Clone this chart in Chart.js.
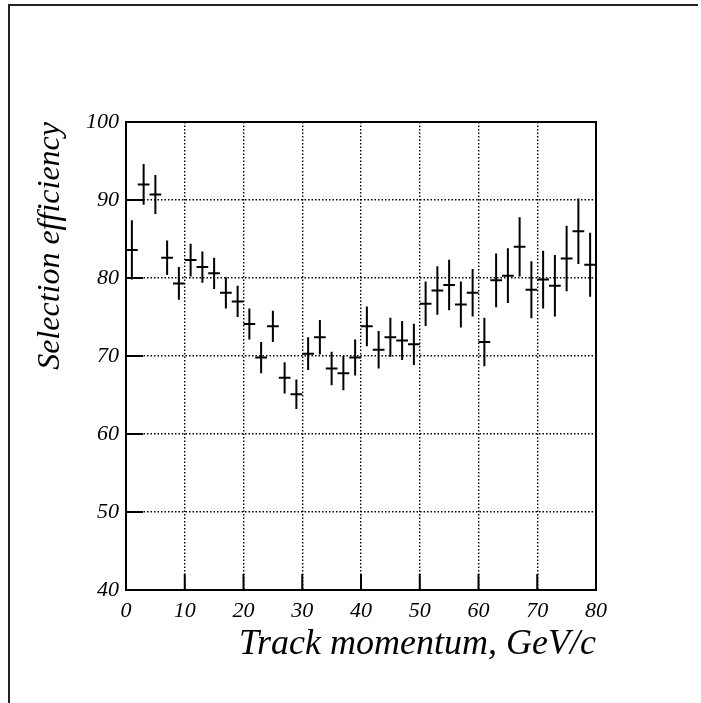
<!DOCTYPE html>
<html>
<head>
<meta charset="utf-8">
<script src="https://cdn.jsdelivr.net/npm/chart.js@4/dist/chart.umd.min.js"></script>
<style>
  html, body { margin: 0; padding: 0; background: #fff; }
  #wrap { width: 701px; height: 703px; }
</style>
</head>
<body>
<div id="wrap"><canvas id="c" width="701" height="703"></canvas></div>
<script>
// Bin centres (GeV/c); each bin is 2 GeV/c wide
const momentum = [1, 3, 5, 7, 9, 11, 13, 15, 17, 19, 21, 23, 25, 27, 29, 31, 33, 35, 37, 39,
                  41, 43, 45, 47, 49, 51, 53, 55, 57, 59, 61, 63, 65, 67, 69, 71, 73, 75, 77, 79];
const binHalfWidth = 1;

// Selection efficiency per bin (%)
const efficiency = [83.6, 92.0, 90.7, 82.6, 79.3, 82.3, 81.4, 80.6, 78.1, 77.0,
                    74.1, 69.8, 73.8, 67.2, 65.1, 70.3, 72.4, 68.4, 67.8, 69.8,
                    73.8, 70.8, 72.4, 72.0, 71.5, 76.7, 78.4, 79.1, 76.6, 78.1,
                    71.8, 79.7, 80.3, 84.0, 78.5, 79.8, 79.0, 82.5, 86.0, 81.7];

// Statistical uncertainty per bin (%)
const efficiencyErr = [3.8, 2.6, 2.5, 2.2, 2.1, 2.1, 2.0, 2.0, 2.0, 2.0,
                       2.0, 2.0, 2.0, 2.0, 1.9, 2.1, 2.2, 2.15, 2.2, 2.3,
                       2.55, 2.4, 2.5, 2.5, 2.65, 2.85, 3.1, 3.25, 2.95, 3.05,
                       3.1, 3.45, 3.5, 3.8, 3.65, 3.7, 3.95, 4.2, 4.2, 4.1];

const xTickValues = [0, 10, 20, 30, 40, 50, 60, 70, 80];
const yTickValues = [40, 50, 60, 70, 80, 90, 100];

const serif = '"Liberation Serif", "Times New Roman", serif';
const ink = '#000';

// White page with the canvas frame (top and left edges)
const pageFrame = {
  id: 'pageFrame',
  beforeDraw(chart) {
    const ctx = chart.ctx;
    ctx.save();
    ctx.fillStyle = '#fff';
    ctx.fillRect(0, 0, chart.width, chart.height);
    ctx.strokeStyle = '#222';
    ctx.lineWidth = 2;
    ctx.beginPath();
    ctx.moveTo(9, chart.height);
    ctx.lineTo(9, 5);
    ctx.lineTo(698, 5);
    ctx.stroke();
    ctx.restore();
  }
};

// Crosses: vertical error bar plus horizontal bin width
const errorBars = {
  id: 'errorBars',
  afterDatasetsDraw(chart) {
    const ctx = chart.ctx;
    const xs = chart.scales.x, ys = chart.scales.y;
    const a = chart.chartArea;
    ctx.save();
    ctx.beginPath();
    ctx.rect(a.left, a.top, a.right - a.left, a.bottom - a.top);
    ctx.clip();
    ctx.strokeStyle = ink;
    ctx.lineWidth = 2;
    ctx.beginPath();
    momentum.forEach((x, i) => {
      const y = efficiency[i], e = efficiencyErr[i];
      const px = xs.getPixelForValue(x);
      const py = ys.getPixelForValue(y);
      ctx.moveTo(px, ys.getPixelForValue(y - e));
      ctx.lineTo(px, ys.getPixelForValue(y + e));
      ctx.moveTo(xs.getPixelForValue(x - binHalfWidth), py);
      ctx.lineTo(xs.getPixelForValue(x + binHalfWidth), py);
    });
    ctx.stroke();
    ctx.restore();
  }
};

// Solid plot frame with inward tick marks on the left and bottom axes
const plotFrame = {
  id: 'plotFrame',
  afterDraw(chart) {
    const ctx = chart.ctx;
    const a = chart.chartArea;
    const xs = chart.scales.x, ys = chart.scales.y;
    ctx.save();
    ctx.strokeStyle = ink;
    ctx.lineWidth = 2;
    ctx.strokeRect(a.left, a.top, a.right - a.left, a.bottom - a.top);
    ctx.beginPath();
    yTickValues.forEach(v => {
      const py = ys.getPixelForValue(v);
      ctx.moveTo(a.left, py);
      ctx.lineTo(a.left + 17, py);
    });
    xTickValues.forEach(v => {
      const px = xs.getPixelForValue(v);
      ctx.moveTo(px, a.bottom);
      ctx.lineTo(px, a.bottom - 16);
    });
    ctx.stroke();
    ctx.restore();
  }
};

new Chart(document.getElementById('c'), {
  type: 'scatter',
  data: {
    datasets: [{
      data: momentum.map((x, i) => ({ x: x, y: efficiency[i] })),
      pointRadius: 0,
      showLine: false
    }]
  },
  options: {
    responsive: false,
    devicePixelRatio: 1,
    animation: false,
    layout: { padding: { top: 122, right: 105, left: 0, bottom: 0 } },
    plugins: { legend: { display: false }, tooltip: { enabled: false } },
    scales: {
      x: {
        type: 'linear',
        min: 0, max: 80,
        afterBuildTicks(scale) { scale.ticks = xTickValues.map(v => ({ value: v })); },
        afterFit(scale) { scale.height = 113; },
        ticks: { color: ink, padding: 8, font: { family: serif, style: 'italic', size: 22 } },
        grid: { color: ink, lineWidth: 1.4, drawTicks: false },
        border: { display: false, dash: [1.5, 2] },
        title: {
          display: true,
          text: 'Track momentum, GeV/c',
          align: 'end',
          color: ink,
          padding: { top: 0, bottom: 37 },
          font: { family: serif, style: 'italic', size: 36 }
        }
      },
      y: {
        type: 'linear',
        min: 40, max: 100,
        afterBuildTicks(scale) { scale.ticks = yTickValues.map(v => ({ value: v })); },
        afterFit(scale) { scale.width = 126; },
        ticks: { color: ink, padding: 7, font: { family: serif, style: 'italic', size: 22 } },
        grid: { color: ink, lineWidth: 1.4, drawTicks: false },
        border: { display: false, dash: [1.5, 2] },
        title: {
          display: true,
          text: 'Selection efficiency',
          align: 'end',
          color: ink,
          padding: { top: 31, bottom: 0 },
          font: { family: serif, style: 'italic', size: 32 }
        }
      }
    }
  },
  plugins: [pageFrame, errorBars, plotFrame]
});
</script>
</body>
</html>
